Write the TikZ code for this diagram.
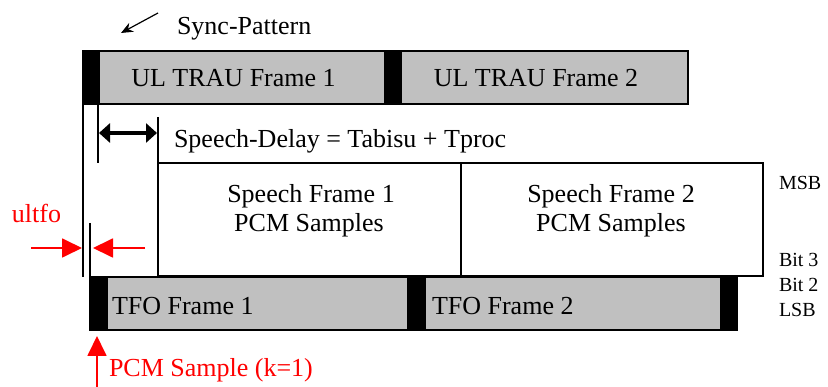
\documentclass[tikz,border=0pt]{standalone}
\usepackage{fontspec}
\setmainfont{Liberation Serif}
\usetikzlibrary{arrows.meta}
\definecolor{framegray}{RGB}{192,192,192}
\begin{document}
\begin{tikzpicture}[x=1pt,y=-1pt,
  every node/.style={inner sep=0pt, outer sep=0pt},
  txt/.style={font=\fontsize{26}{28}\selectfont},
  small/.style={font=\fontsize{20}{22}\selectfont, anchor=base west},
  redtxt/.style={txt, text=red},
  gframe/.style={draw, line width=1.4pt, fill=framegray, anchor=north west, minimum height=53pt},
  wframe/.style={draw, line width=1.4pt, fill=white, anchor=north west, minimum height=113pt},
  sync/.style={fill=black, anchor=north west, minimum height=53pt},
  vline/.style={line width=1.5pt},
  redarrow/.style={red, line width=1.8pt, -{Triangle[length=20pt, width=19pt]}}
]
\useasboundingbox (0,0) rectangle (828,387);

% UL TRAU row
\node[gframe, minimum width=589pt] (ulrow) at (83,51) {};
\node[gframe, minimum width=286pt] (ul1) at (99,51) {};
\node[gframe, minimum width=287pt] (ul2) at (401,51) {};
\node[sync, minimum width=16pt] (uls1) at (83,51) {};
\node[sync, minimum width=16pt] (uls2) at (385,51) {};
\node[txt, anchor=base] (ul1t) at (233.5,87) {UL TRAU Frame 1};
\node[txt, anchor=base] (ul2t) at (536,87) {UL TRAU Frame 2};

% Sync pattern pointer
\coordinate (sa) at (158,13);
\coordinate (sb) at (121,33);
\draw[line width=1.2pt, -{Stealth[length=12pt, width=10pt]}] (sa) -- (sb);
\node[txt, anchor=base west] (synct) at (177,35) {Sync-Pattern};

% Speech frames
\node[wframe, minimum width=303pt] (sp1) at (158,163) {};
\node[wframe, minimum width=302pt] (sp2) at (461,163) {};
\node[txt, anchor=base] (sp1a) at (311,203) {Speech Frame 1};
\node[txt, anchor=base] (sp1b) at (309,232) {PCM Samples};
\node[txt, anchor=base] (sp2a) at (611,203) {Speech Frame 2};
\node[txt, anchor=base] (sp2b) at (611,232) {PCM Samples};

% TFO row
\node[gframe, minimum width=647pt] (tforow) at (90,277) {};
\node[gframe, minimum width=301pt] (tfo1) at (107,277) {};
\node[gframe, minimum width=296pt] (tfo2) at (425,277) {};
\node[sync, minimum width=17pt] (tfs1) at (90,277) {};
\node[sync, minimum width=17pt] (tfs2) at (408,277) {};
\node[sync, minimum width=16pt] (tfs3) at (721,277) {};
\node[txt, anchor=base west] (tfo1t) at (112,315) {TFO Frame 1};
\node[txt, anchor=base west] (tfo2t) at (432,315) {TFO Frame 2};

% vertical marker lines
\coordinate (v1a) at (83,104);  \coordinate (v1b) at (83,277);
\coordinate (v2a) at (98,104);  \coordinate (v2b) at (98,163);
\coordinate (v3a) at (90,223);  \coordinate (v3b) at (90,277);
\coordinate (v4a) at (158,117); \coordinate (v4b) at (158,163);
\draw[vline] (v1a) -- (v1b);
\draw[vline] (v2a) -- (v2b);
\draw[vline] (v3a) -- (v3b);
\draw[vline] (v4a) -- (v4b);

% speech delay arrow
\coordinate (da) at (99,133);
\coordinate (db) at (157,133);
\draw[line width=3.5pt, {Triangle[length=11pt, width=19pt]}-{Triangle[length=11pt, width=19pt]}] (da) -- (db);
\node[txt, anchor=base west] (delayt) at (174,148) {Speech-Delay = Tabisu + Tproc};

% bit labels
\node[small] (msb) at (779,190) {MSB};
\node[small] (bit3) at (779,267) {Bit 3};
\node[small] (bit2) at (779,292) {Bit 2};
\node[small] (lsb) at (779,317) {LSB};

% red annotations
\node[redtxt, anchor=base west] (ultfo) at (12,223) {ultfo};
\coordinate (ra) at (31,248);  \coordinate (rb) at (82,248);
\coordinate (rc) at (145,248); \coordinate (rd) at (93,248);
\draw[redarrow] (ra) -- (rb);
\draw[redarrow] (rc) -- (rd);
\coordinate (pa) at (97,387); \coordinate (pb) at (97,336);
\draw[redarrow] (pa) -- (pb);
\node[redtxt, anchor=base west] (pcmt) at (109,377) {PCM Sample (k=1)};
\end{tikzpicture}
\end{document}
